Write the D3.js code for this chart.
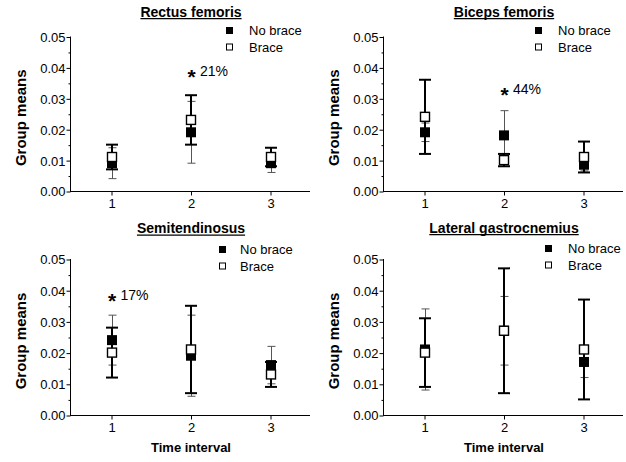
<!DOCTYPE html>
<html>
<head>
<meta charset="utf-8">
<script src="https://cdn.jsdelivr.net/npm/d3@7"></script>
<style>
  html, body { margin: 0; padding: 0; background: #fff; }
  svg { display: block; font-family: "Liberation Sans", Arial, Helvetica, sans-serif; }
</style>
</head>
<body>
<svg id="chart" width="626" height="462"></svg>
<script>
// Time intervals on the x axis
const categories = [1, 2, 3];
const muscles = ["Rectus femoris", "Biceps femoris", "Semitendinosus", "Lateral gastrocnemius"];
const seriesNames = ["No brace", "Brace"];

// Group means and error half-widths, one row per muscle, one column per interval
const noBraceMeans = [
  [0.009, 0.019, 0.009],
  [0.019, 0.018, 0.0085],
  [0.024, 0.019, 0.016],
  [0.021, 0.027, 0.017]
];
const noBraceErrors = [
  [0.005, 0.010, 0.003],
  [0.003, 0.008, 0.002],
  [0.008, 0.013, 0.006],
  [0.013, 0.011, 0.005]
];
const braceMeans = [
  [0.011, 0.023, 0.011],
  [0.024, 0.010, 0.011],
  [0.020, 0.021, 0.013],
  [0.020, 0.027, 0.021]
];
const braceErrors = [
  [0.004, 0.008, 0.003],
  [0.012, 0.002, 0.005],
  [0.008, 0.014, 0.004],
  [0.011, 0.020, 0.016]
];

// Axis ticks
const yMajorTicks = [0, 0.01, 0.02, 0.03, 0.04, 0.05];
const yMinorTicks = [0.005, 0.015, 0.025, 0.035, 0.045];

// Significance notes: muscle index, interval, level, text
const noteMuscle = [0, 1, 2];
const noteInterval = [2, 2, 1];
const noteLevel = [0.0372, 0.0313, 0.0367];
const noteText = ["21%", "44%", "17%"];

const svg = d3.select("#chart");
const FONT = '"Liberation Sans", Arial, Helvetica, sans-serif';

// Panel frames: y axis position, pixel rows of 0 and 0.05, title and legend placement
const panels = [
  { ax: 70,  y0: 191, y1: 36.5, title: 16.5, legendY: 30.5, legSq: 229.5, legTx: 249, xLabel: false },
  { ax: 383, y0: 191, y1: 36.5, title: 16.5, legendY: 30.5, legSq: 538.5, legTx: 558, xLabel: false },
  { ax: 70,  y0: 415, y1: 259,  title: 233,  legendY: 249.5, legSq: 222.5, legTx: 240, xLabel: true },
  { ax: 383, y0: 415, y1: 259,  title: 232.5, legendY: 248.5, legSq: 548.5, legTx: 568, xLabel: true }
];

panels.forEach((p, i) => {
  const g = svg.append("g");
  const x = d3.scaleLinear().domain([1, 3]).range([p.ax + 41.5, p.ax + 200.5]);
  const y = d3.scaleLinear().domain([0, 0.05]).range([p.y0, p.y1]);
  const xEnd = p.ax + 240;

  // y axis: minor then major ticks
  const yMinor = g.append("g").attr("transform", `translate(${p.ax + 0.5},0.5)`)
    .call(d3.axisLeft(y).tickValues(yMinorTicks).tickSize(2).tickFormat(""));
  yMinor.select(".domain").remove();
  const yMajor = g.append("g").attr("transform", `translate(${p.ax + 0.5},0.5)`)
    .call(d3.axisLeft(y).tickValues(yMajorTicks).tickSize(4).tickPadding(1).tickFormat(d3.format(".2f")));
  yMajor.select(".domain").remove();
  yMajor.selectAll("text").attr("font-family", FONT).attr("font-size", 13).attr("fill", "#000").attr("dy", "0.34em");

  // x axis
  const xAxis = g.append("g").attr("transform", `translate(0,${p.y0 + 0.5})`)
    .call(d3.axisBottom(x).tickValues(categories).tickSize(4).tickPadding(3).tickFormat(d3.format("d")));
  xAxis.select(".domain").remove();
  xAxis.selectAll("text").attr("font-family", FONT).attr("font-size", 13).attr("fill", "#000");
  g.selectAll("g.tick line").attr("stroke", "#000");

  g.append("line").attr("x1", p.ax + 0.5).attr("x2", p.ax + 0.5)
    .attr("y1", y(0.05)).attr("y2", p.y0 + 0.5).attr("stroke", "#000");
  g.append("line").attr("x1", p.ax).attr("x2", xEnd)
    .attr("y1", p.y0 + 0.5).attr("y2", p.y0 + 0.5).attr("stroke", "#000");

  // Title, underlined
  const title = g.append("text").attr("x", x(2)).attr("y", p.title)
    .attr("text-anchor", "middle").attr("font-family", FONT)
    .attr("font-size", 14).attr("font-weight", "bold").text(muscles[i]);
  const tw = title.node().getComputedTextLength();
  g.append("line").attr("x1", x(2) - tw / 2).attr("x2", x(2) + tw / 2)
    .attr("y1", p.title + 2.2).attr("y2", p.title + 2.2)
    .attr("stroke", "#000").attr("stroke-width", 1.2);

  // Y label
  g.append("text")
    .attr("transform", `translate(${p.ax - 44},${(p.y0 + p.y1) / 2 + 4}) rotate(-90)`)
    .attr("text-anchor", "middle").attr("font-family", FONT)
    .attr("font-size", 15).attr("font-weight", "bold").text("Group means");

  if (p.xLabel) {
    g.append("text").attr("x", x(2)).attr("y", p.y0 + 37)
      .attr("text-anchor", "middle").attr("font-family", FONT)
      .attr("font-size", 13).attr("font-weight", "bold").text("Time interval");
  }

  // Legend
  const leg = g.append("g");
  seriesNames.forEach((name, k) => {
    const cy = p.legendY + k * 16.5;
    leg.append("rect").attr("x", p.legSq - 3).attr("y", cy - 3).attr("width", 6).attr("height", 6)
      .attr("fill", k === 0 ? "#000" : "#fff").attr("stroke", "#000").attr("stroke-width", 1);
    leg.append("text").attr("x", p.legTx).attr("y", cy + 4.5)
      .attr("font-family", FONT).attr("font-size", 13).text(name);
  });

  // Error bars: No brace (thin, grey) then Brace (thick, black)
  const bars = [
    { means: noBraceMeans[i], errs: noBraceErrors[i], sw: 1, cap: 4, color: "#555" },
    { means: braceMeans[i], errs: braceErrors[i], sw: 2, cap: 6, color: "#000" }
  ];
  bars.forEach(b => {
    const eg = g.append("g").attr("stroke", b.color).attr("stroke-width", b.sw);
    categories.forEach((c, j) => {
      const lo = y(b.means[j] - b.errs[j]), hi = y(b.means[j] + b.errs[j]);
      const cx = Math.round(x(c)) + (b.sw === 1 ? 0.5 : 0);
      eg.append("line").attr("x1", cx).attr("x2", cx).attr("y1", lo).attr("y2", hi);
      eg.append("line").attr("x1", cx - b.cap).attr("x2", cx + b.cap).attr("y1", lo).attr("y2", lo);
      eg.append("line").attr("x1", cx - b.cap).attr("x2", cx + b.cap).attr("y1", hi).attr("y2", hi);
    });
  });

  // Markers: filled squares, then open squares on top
  const S = 10;
  g.append("g").selectAll("rect").data(categories).join("rect")
    .attr("x", c => Math.round(x(c)) - S / 2).attr("y", (c, j) => y(noBraceMeans[i][j]) - S / 2)
    .attr("width", S).attr("height", S).attr("fill", "#000");
  g.append("g").selectAll("rect").data(categories).join("rect")
    .attr("x", c => Math.round(x(c)) - S / 2 + 0.5).attr("y", (c, j) => y(braceMeans[i][j]) - S / 2 + 0.5)
    .attr("width", S - 1).attr("height", S - 1).attr("fill", "#fff")
    .attr("stroke", "#000").attr("stroke-width", 1.4);

  // Significance notes
  noteMuscle.forEach((m, k) => {
    if (m !== i) return;
    const nx = x(noteInterval[k]), ny = y(noteLevel[k]);
    g.append("text").attr("x", nx + 0.5).attr("y", ny + 8).attr("text-anchor", "middle")
      .attr("font-family", FONT).attr("font-size", 21).attr("font-weight", "bold").text("*");
    g.append("text").attr("x", nx + 9).attr("y", ny)
      .attr("font-family", FONT).attr("font-size", 14).text(noteText[k]);
  });
});
</script>
</body>
</html>
